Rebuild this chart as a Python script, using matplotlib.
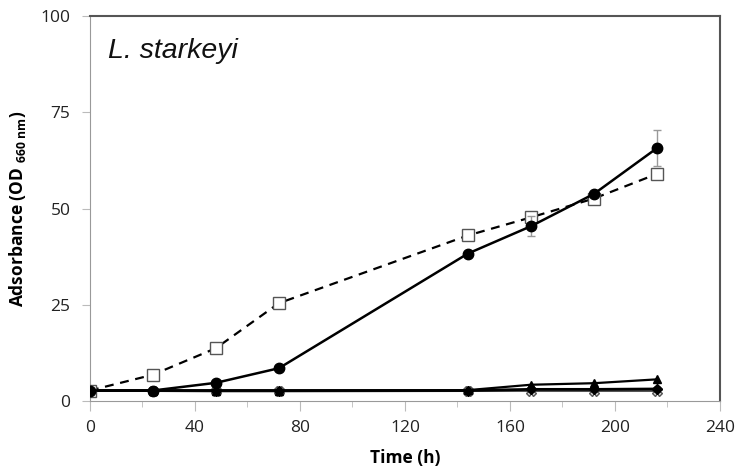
import numpy as np
import matplotlib
matplotlib.use("Agg")
import matplotlib.pyplot as plt

plt.rcParams['font.family'] = ['Open Sans', 'DejaVu Sans']
plt.rcParams['mathtext.fontset'] = 'custom'
plt.rcParams['mathtext.bf'] = 'Open Sans:bold'
plt.rcParams['mathtext.rm'] = 'Open Sans:bold'

# sampling times (h)
t = [0, 24, 48, 72, 144, 168, 192, 216]

# series
circ = [2.7, 2.7, 4.7, 8.5, 38.3, 45.4, 53.8, 65.7]
circ_err = [0, 0, 0, 0, 0, 2.6, 0, 4.6]
squ = [2.7, 6.8, 13.7, 25.4, 43.0, 47.7, 52.6, 59.0]
tri = [2.7, 2.7, 2.7, 2.7, 2.8, 4.2, 4.6, 5.6]
dia = [2.7, 2.7, 2.7, 2.7, 2.7, 3.0, 3.0, 3.1]
star = [2.6, 2.6, 2.5, 2.5, 2.6, 2.6, 2.6, 2.6]

xticks = [0, 40, 80, 120, 160, 200, 240]
yticks = [0, 25, 50, 75, 100]

fig = plt.figure(figsize=(7.43, 4.75), dpi=100)
ax = fig.add_axes([0.121, 0.156, 0.848, 0.810])

ax.plot(t, star, color='#555555', marker='X', ms=6.5, mfc='#dddddd', mec='#555555',
        lw=1.6, zorder=2)
ax.plot(t, dia, color='black', marker='D', ms=5.5, lw=2.0, zorder=3)
ax.plot(t, tri, color='black', marker='^', ms=5.5, lw=1.6, zorder=3)
ax.plot(t, squ, color='black', ls=(0, (4, 3)), lw=1.6, marker='s', ms=8.5,
        mfc='white', mec='#555555', mew=1.0, zorder=4)
ax.errorbar(t, circ, yerr=circ_err, color='black', lw=1.8, marker='o', ms=7.5,
            ecolor='#999999', elinewidth=1.0, capsize=3, zorder=5)

ax.set_xlim(0, 240)
ax.set_ylim(0, 100)
ax.set_xticks(xticks)
ax.set_xticks(np.arange(0, 241, 20), minor=True)
ax.set_yticks(yticks)
ax.tick_params(axis='both', which='both', direction='out', color='#bbbbbb',
               labelsize=12.5, labelcolor='#222222')
ax.tick_params(axis='x', which='major', length=7, pad=7)
ax.tick_params(axis='x', which='minor', length=4)
ax.tick_params(axis='y', length=6, pad=8)

for s in ['left', 'bottom']:
    ax.spines[s].set_color('#999999')
for s in ['top', 'right']:
    ax.spines[s].set_color('#555555')
    ax.spines[s].set_linewidth(1.5)

ax.set_xlabel('Time (h)', fontsize=12.5, fontweight='bold', labelpad=9)
ax.set_ylabel(r'Adsorbance (OD $_{\mathbf{660\ nm}}$)', fontsize=12.5,
              fontweight='bold', labelpad=9)

ax.text(0.028, 0.91, 'L. starkeyi', transform=ax.transAxes, fontsize=20.5,
        style='italic', family='Liberation Sans', color='#111111', va='center')

fig.savefig('out.png', dpi=100)
